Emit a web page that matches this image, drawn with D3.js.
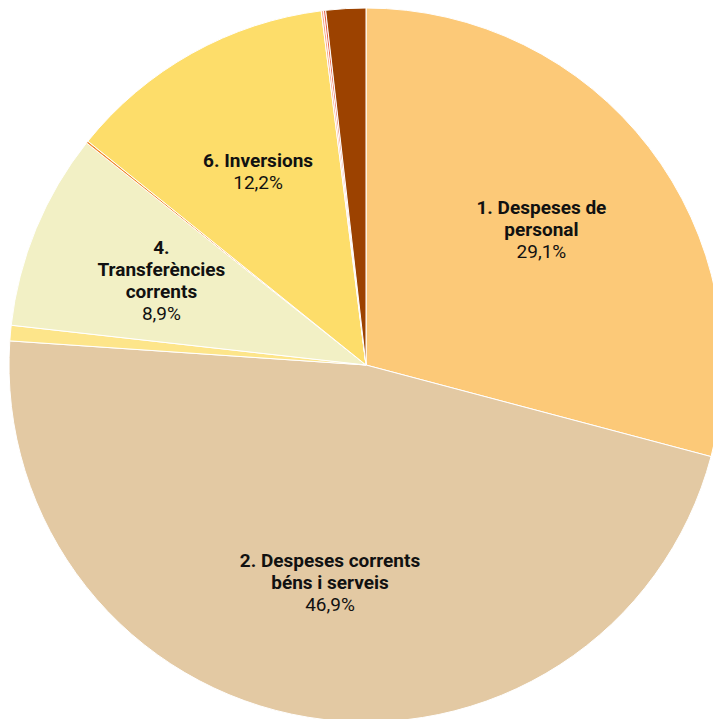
<!DOCTYPE html>
<html>
<head>
<meta charset="utf-8">
<script src="https://cdn.jsdelivr.net/npm/d3@7"></script>
<style>
  body { margin: 0; background: #fff; }
  text { font-family: Roboto, "Noto Sans", sans-serif; }
</style>
</head>
<body>
<div id="pie"></div>
<script>
// slices in clockwise order from 12 o'clock
const categories = ["1. Despeses de personal", "2. Despeses corrents béns i serveis", "3. Despeses financeres",
  "4. Transferències corrents", "5. Fons de contingència", "6. Inversions", "7. Transferències de capital",
  "8. Actius financers", "9. Passius financers"];
const values = [29.1, 46.9, 0.7, 8.9, 0.1, 12.2, 0.1, 0.1, 1.8];
const colors = ["#fcc978", "#e3c9a3", "#fde58a", "#f2f0c5", "#f08a30", "#fddd6a", "#f7a98a", "#e9634a", "#9c4200"];
// only the big slices get a label
const labelLines = [["1. Despeses de", "personal"], ["2. Despeses corrents", "béns i serveis"], null,
  ["4.", "Transferències", "corrents"], null, ["6. Inversions"], null, null, null];
const pctLabels = ["29,1%", "46,9%", null, "8,9%", null, "12,2%", null, null, null];

const width = 713, height = 719;
const cx = 366, cy = 365, radius = 357;

const svg = d3.select("#pie")
  .append("svg")
    .attr("width", width)
    .attr("height", height)
  .append("g")
    .attr("transform", `translate(${cx}, ${cy})`);

const data = categories.map((c, i) => ({name: c, value: values[i], i: i}));

const pie = d3.pie()
  .value(d => d.value)
  .sort(null);

const arc = d3.arc()
  .innerRadius(0)
  .outerRadius(radius);

const labelArc = d3.arc()
  .innerRadius(radius * 0.62)
  .outerRadius(radius * 0.62);

const arcs = pie(data);

svg.selectAll("path.slice")
  .data(arcs)
  .enter()
  .append("path")
    .attr("class", "slice")
    .attr("d", arc)
    .attr("fill", d => colors[d.data.i])
    .attr("stroke", "#ffffff")
    .attr("stroke-width", 1);

// labels: bold name lines + normal percentage
const lineH = 22;
arcs.forEach(a => {
  const lines = labelLines[a.data.i];
  if (!lines) return;
  const [lx, ly] = labelArc.centroid(a);
  const all = lines.length + 1;
  const t = svg.append("text")
    .attr("text-anchor", "middle")
    .style("font-size", "19px")
    .style("fill", "#111");
  lines.forEach((l, k) => {
    t.append("tspan")
      .attr("x", lx)
      .attr("y", ly + (k - (all - 1) / 2) * lineH + 6)
      .style("font-weight", "bold")
      .text(l);
  });
  t.append("tspan")
    .attr("x", lx)
    .attr("y", ly + (lines.length - (all - 1) / 2) * lineH + 6)
    .text(pctLabels[a.data.i]);
});
</script>
</body>
</html>
